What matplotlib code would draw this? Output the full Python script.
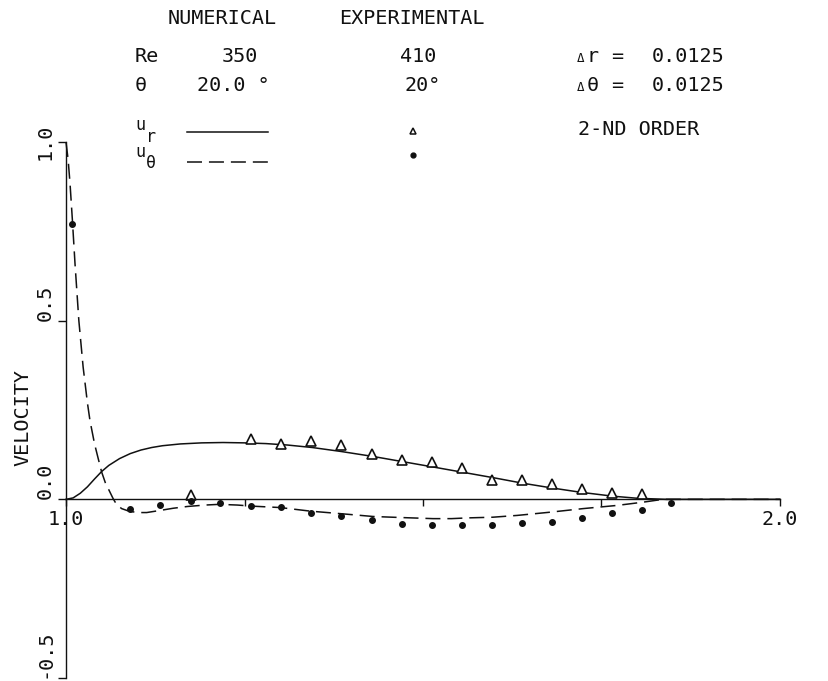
import matplotlib
matplotlib.use('Agg')
import matplotlib.pyplot as plt
from matplotlib.lines import Line2D

# ---------------- data ----------------
# numerical u_r (solid)
ur_r = [1.000, 1.010, 1.020, 1.030, 1.040, 1.050, 1.060, 1.075, 1.090, 1.105,
        1.120, 1.135, 1.160, 1.190, 1.220, 1.250, 1.280, 1.310, 1.345, 1.385,
        1.430, 1.470, 1.510, 1.555, 1.600, 1.640, 1.680, 1.720, 1.765, 1.800,
        1.840, 1.900, 2.000]
ur_v = [0.000, 0.004, 0.017, 0.035, 0.057, 0.078, 0.095, 0.114, 0.128, 0.138,
        0.145, 0.150, 0.155, 0.158, 0.159, 0.158, 0.156, 0.152, 0.145, 0.134,
        0.120, 0.106, 0.092, 0.076, 0.060, 0.045, 0.032, 0.020, 0.009, 0.003,
        0.000, 0.000, 0.000]

# numerical u_theta (dashed)
ut_r = [1.000, 1.003, 1.0056, 1.009, 1.0126, 1.018, 1.024, 1.030, 1.0336, 1.040,
        1.045, 1.050, 1.055, 1.0616, 1.066, 1.071, 1.078, 1.088, 1.100, 1.113,
        1.132, 1.150, 1.170, 1.195, 1.215, 1.240, 1.260, 1.300, 1.342, 1.384,
        1.430, 1.470, 1.514, 1.540, 1.562, 1.598, 1.632, 1.678, 1.724, 1.772,
        1.808, 1.836, 1.900, 2.000]
ut_v = [1.000, 0.950, 0.885, 0.780, 0.660, 0.500, 0.370, 0.270, 0.220, 0.155,
        0.115, 0.076, 0.047, 0.020, 0.002, -0.015, -0.026, -0.033, -0.037, -0.037,
        -0.031, -0.025, -0.020, -0.016, -0.014, -0.016, -0.019, -0.023, -0.033, -0.040,
        -0.048, -0.051, -0.054, -0.054, -0.052, -0.050, -0.045, -0.036, -0.026, -0.017,
        -0.008, 0.000, 0.000, 0.000]

# experimental u_r (open triangles)
exp_ur_r = [1.175, 1.259, 1.301, 1.343, 1.385, 1.428, 1.470, 1.512, 1.555, 1.597,
            1.638, 1.680, 1.723, 1.765, 1.807]
exp_ur_v = [0.012, 0.170, 0.156, 0.163, 0.151, 0.128, 0.109, 0.104, 0.088, 0.053,
            0.053, 0.044, 0.030, 0.018, 0.014]

# experimental u_theta (filled dots)
exp_ut_r = [1.008, 1.090, 1.132, 1.175, 1.216, 1.259, 1.301, 1.343, 1.385, 1.428,
            1.470, 1.512, 1.555, 1.597, 1.638, 1.680, 1.723, 1.765, 1.807, 1.848]
exp_ut_v = [0.770, -0.026, -0.015, -0.006, -0.010, -0.020, -0.022, -0.038, -0.048, -0.057,
            -0.068, -0.073, -0.073, -0.073, -0.066, -0.064, -0.052, -0.038, -0.031, -0.010]

yticks = [-0.5, 0.0, 0.5, 1.0]
ytick_labels = ['-0.5', '0.0', '0.5', '1.0']
xticks = [1.0, 1.25, 1.5, 1.75, 2.0]
xtick_labels = ['1.0', '', '', '', '2.0']

# ---------------- figure ----------------
W, H = 829, 681
plt.rcParams['lines.scale_dashes'] = False
FONT = 'DejaVu Sans Mono'
FS = 14.5
INK = '#111111'
DASH = (10.8, 5.0)

fig = plt.figure(figsize=(W / 100, H / 100), dpi=100)
fig.patch.set_facecolor('white')

def fx(x):
    return x / W

def fy(y):
    return 1 - y / H

ax = fig.add_axes([fx(66), fy(678), (780 - 66) / W, (678 - 142) / H])
ax.set_xlim(1.0, 2.0)
ax.set_ylim(-0.5, 1.0)
ax.patch.set_visible(False)
for s in ['top', 'right']:
    ax.spines[s].set_visible(False)
ax.spines['bottom'].set_position(('data', 0.0))
for s in ['left', 'bottom']:
    ax.spines[s].set_linewidth(1.0)
    ax.spines[s].set_color(INK)

ax.plot(ur_r, ur_v, color=INK, lw=1.1, clip_on=False)
ax.plot(ut_r, ut_v, color=INK, lw=1.1, dashes=DASH, clip_on=False)
ax.plot(exp_ur_r, exp_ur_v, linestyle='none', marker='^', ms=6.5, mfc='white',
        mec=INK, mew=1.2, clip_on=False)
ax.plot(exp_ut_r, exp_ut_v, linestyle='none', marker='o', ms=4, mfc=INK,
        mec=INK, clip_on=False)

ax.set_yticks(yticks)
ax.set_yticklabels(ytick_labels, rotation=90, fontsize=FS, family=FONT, color=INK)
ax.tick_params(axis='y', direction='out', length=6, width=1.0, pad=2, color=INK)
for lab in ax.get_yticklabels():
    lab.set_verticalalignment('center' if lab.get_text() == '1.0' else 'bottom')

ax.set_xticks(xticks)
ax.set_xticklabels(xtick_labels, fontsize=FS, family=FONT, color=INK)
ax.tick_params(axis='x', direction='out', length=5, width=1.0, pad=3, color=INK)

fig.text(fx(23), fy(418), 'VELOCITY', rotation=90, ha='center', va='center',
         fontsize=FS, family=FONT, color=INK)

# ---------------- header / legend table ----------------
def t(x, y, s, ha='left', size=FS):
    fig.text(fx(x), fy(y), s, ha=ha, va='baseline', fontsize=size,
             family=FONT, color=INK)

t(222, 24, 'NUMERICAL', ha='center')
t(412, 24, 'EXPERIMENTAL', ha='center')

t(135, 62, 'Re')
t(240, 62, '350', ha='center')
t(418, 62, '410', ha='center')
t(577, 62, 'Δ', size=9)
t(587, 62, 'r')
t(611, 62, '=')
t(652, 62, '0.0125')

t(135, 91, 'θ')
t(197, 91, '20.0 °')
t(405, 91, '20°')
t(577, 91, 'Δ', size=9)
t(587, 91, 'θ')
t(611, 91, '=')
t(652, 91, '0.0125')

t(135, 130, 'u', size=12)
t(146, 142, 'r', size=12)
t(135, 157, 'u', size=12)
t(146, 168, 'θ', size=12)
t(578, 135, '2-ND ORDER')

fig.add_artist(Line2D([fx(187), fx(268)], [fy(132), fy(132)], color=INK, lw=1.1,
                      transform=fig.transFigure))
fig.add_artist(Line2D([fx(187), fx(268)], [fy(162), fy(162)], color=INK, lw=1.1,
                      dashes=DASH, transform=fig.transFigure))
fig.add_artist(Line2D([fx(413)], [fy(131)], linestyle='none', marker='^', ms=5,
                      mfc='white', mec=INK, mew=1.1, transform=fig.transFigure))
fig.add_artist(Line2D([fx(413)], [fy(155)], linestyle='none', marker='o', ms=3.5,
                      mfc=INK, mec=INK, transform=fig.transFigure))

fig.savefig('out.png', dpi=100, facecolor='white')
